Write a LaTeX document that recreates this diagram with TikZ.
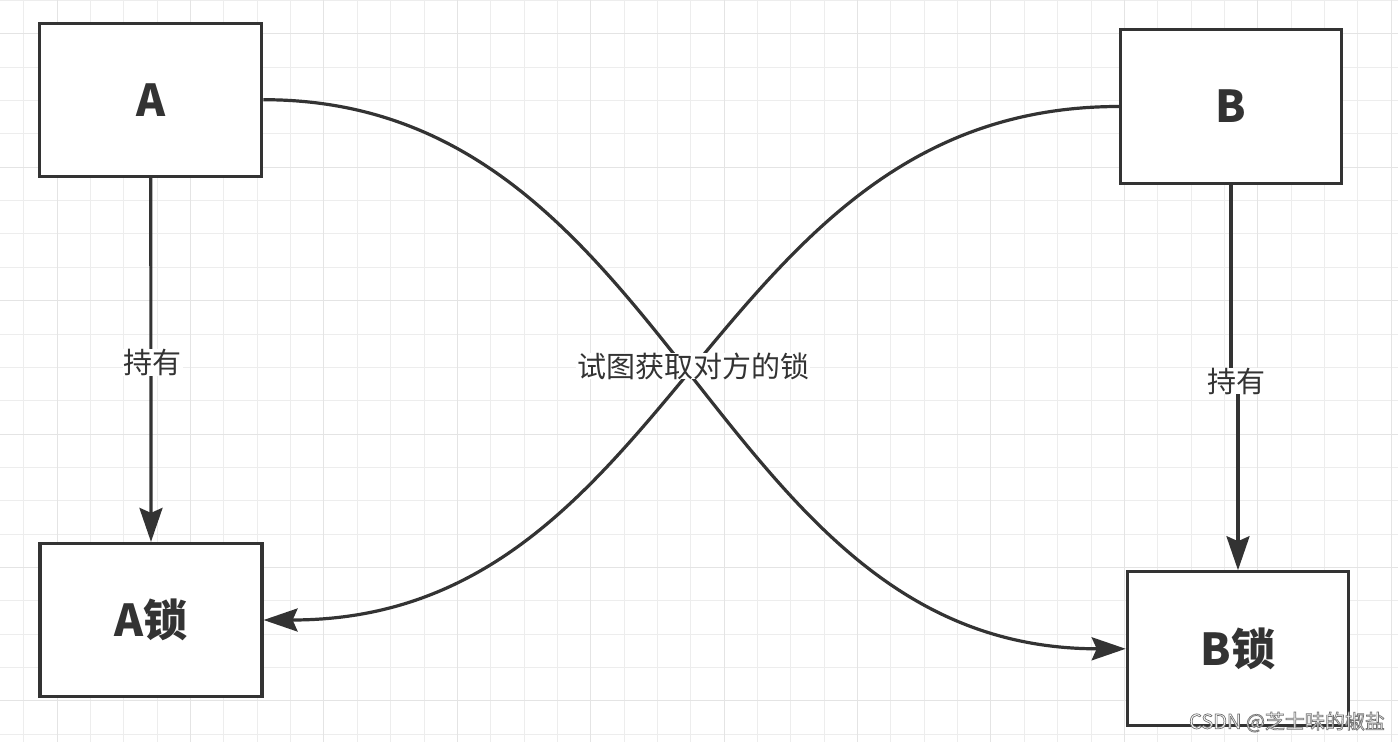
\documentclass[tikz,border=0pt]{standalone}
\usepackage{fontspec}
\setmainfont{Noto Sans CJK SC}
\usetikzlibrary{arrows.meta}
\definecolor{ink}{HTML}{333333}
\definecolor{gridminor}{HTML}{EDEDED}
\definecolor{gridmajor}{HTML}{E4E4E4}
\tikzset{
  box/.style={draw=ink, line width=3.2pt, fill=white, minimum width=221pt, minimum height=154pt,
    inner sep=0pt, font=\fontsize{44}{50}\selectfont\bfseries, text=ink},
  lbl/.style={fill=white, inner xsep=1pt, inner ysep=0pt, text=ink,
    font=\fontsize{29}{34}\selectfont},
  conn/.style={draw=ink, line width=3.2pt, -{Stealth[length=34pt, width=23pt, inset=5pt]}},
}
\begin{document}
\begin{tikzpicture}[x=1pt, y=-1pt]
\useasboundingbox (0,0) rectangle (1398,742);
\fill[white] (0,0) rectangle (1398,742);
% grid
\foreach \k in {0,...,41} {
  \pgfmathsetmacro{\gx}{round(23.3+\k*33.35)+0.5}
  \draw[gridminor, line width=1pt] (\gx,0) -- (\gx,742);
}
\foreach \k in {0,...,22} {
  \pgfmathsetmacro{\gy}{round(\k*33.35)+0.5}
  \draw[gridminor, line width=1pt] (0,\gy) -- (1398,\gy);
}
\foreach \k in {0,...,10} {
  \pgfmathsetmacro{\gx}{round(56.65+\k*133.4)+0.5}
  \draw[gridmajor, line width=1pt] (\gx,0) -- (\gx,742);
}
\foreach \k in {0,...,5} {
  \pgfmathsetmacro{\gy}{round(33.35+\k*133.4)+0.5}
  \draw[gridmajor, line width=1pt] (0,\gy) -- (1398,\gy);
}
% boxes
\node[box, minimum width=222pt, minimum height=153pt] (A) at (150.8,99.7) {A};
\node[box, minimum width=222pt, minimum height=153pt] (AL) at (151,620) {A锁};
\node[box] (B) at (1231,106.5) {B};
\node[box] (BL) at (1237.8,648.8) {B锁};
% vertical connectors
\draw[conn] (A.south) -- (AL.north);
\coordinate (j1) at (1231,380);
\coordinate (j2) at (1238,380);
\draw[conn] (B.south -| j1) -- (j1) -- (j2) -- (BL.north -| j2);
% curved connectors
\draw[conn] (A.east) .. controls (677,99.7) and (709,648.8) .. (BL.west);
\draw[conn] (B.west) .. controls (706,106.5) and (681,620) .. (AL.east);
% labels
\node[lbl] (la) at (152.5,362.5) {持有};
\node[lbl] (lb) at (1236,381) {持有};
\node[lbl] (lm) at (693,366) {试图获取对方的锁};
% watermark
\node[inner sep=0pt, font=\fontsize{20}{24}\selectfont] (wm) at (1287,722)
  {\color{white}\special{pdf:literal direct 0.45 G 0.7 w 2 Tr}CSDN @芝士味的椒盐\special{pdf:literal direct 0 Tr}};
\end{tikzpicture}
\end{document}
